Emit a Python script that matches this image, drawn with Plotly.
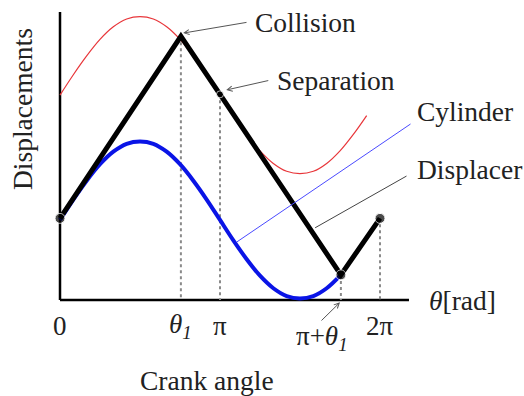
import plotly.graph_objects as go

# Crank angle samples (degrees) and displacement readings
crank_deg = [0, 15, 30, 45, 60, 75, 90, 105, 120, 135, 150, 165, 180,
             195, 210, 225, 240, 255, 270, 285, 300, 315, 330, 345]

# thin red curve (upper boundary)
upper_curve = [2.61, 2.87, 3.11, 3.32, 3.48, 3.58, 3.61, 3.58, 3.48, 3.32, 3.11, 2.87,
               2.61, 2.35, 2.11, 1.90, 1.74, 1.64, 1.61, 1.64, 1.74, 1.90, 2.11, 2.35]

# thick blue curve ("Cylinder"), ends at pi + theta1
cylinder_deg = [0, 15, 30, 45, 60, 75, 90, 105, 120, 135, 150, 165, 180,
                195, 210, 225, 240, 255, 270, 285, 300, 316]
cylinder = [1.02, 1.28, 1.52, 1.73, 1.89, 1.99, 2.02, 1.99, 1.89, 1.73, 1.52, 1.28,
            1.02, 0.76, 0.52, 0.31, 0.15, 0.05, 0.02, 0.05, 0.15, 0.32]

# thick black polyline ("Displacer"): start, collision, separation, pi+theta1, 2pi
event_deg = [0, 136, 180, 316, 360]
displacer = [1.04, 3.36, 2.62, 0.32, 1.04]

tick_vals = [0, 136, 180, 360]
tick_text = ["0", "<i>θ</i><sub><i>1</i></sub>", "π", "2π"]

FONT = "Liberation Serif"
X_MAX = 392.6   # end of the horizontal axis line
Y_MAX = 3.669   # top of the vertical axis line

fig = go.Figure()

# dotted guides from the marked events down to the axis
gx, gy = [], []
for d, v in zip(event_deg[1:], displacer[1:]):
    gx += [d, d, None]
    gy += [v, 0, None]
fig.add_trace(go.Scatter(x=gx, y=gy, mode="lines",
                         line=dict(color="#8a8a8a", width=2, dash="dot"),
                         hoverinfo="skip"))

fig.add_trace(go.Scatter(x=crank_deg, y=upper_curve, mode="lines",
                         line=dict(color="#e8363a", width=1.2, shape="spline")))
fig.add_trace(go.Scatter(x=cylinder_deg, y=cylinder, mode="lines",
                         line=dict(color="#0a14e6", width=4, shape="spline")))
fig.add_trace(go.Scatter(x=event_deg, y=displacer, mode="lines",
                         line=dict(color="black", width=5)))
# event dots
dot_idx = [0, 2, 3, 4]
fig.add_trace(go.Scatter(x=[event_deg[i] for i in dot_idx],
                         y=[displacer[i] for i in dot_idx],
                         mode="markers",
                         marker=dict(color="black", size=[10, 7, 10, 10])))

# axis lines
shapes = [
    dict(type="line", xref="x", yref="y", x0=0, y0=0, x1=X_MAX, y1=0,
         line=dict(color="black", width=2.5), layer="below"),
    dict(type="line", xref="x", yref="y", x0=0, y0=0, x1=0, y1=Y_MAX,
         line=dict(color="black", width=2.5), layer="below"),
]

ann = []
def label(text, x, y, xanchor="left", size=27.5, **kw):
    ann.append(dict(text=text, x=x, y=y, xref="x", yref="y", showarrow=False,
                    xanchor=xanchor, yanchor="middle",
                    font=dict(family=FONT, size=size, color="#222"), **kw))

def pointer(x, y, ax, ay, color="#555", head=5, width=1):
    ann.append(dict(text="", x=x, y=y, ax=ax, ay=ay, xref="x", yref="y",
                    axref="x", ayref="y", showarrow=True, arrowhead=head,
                    arrowsize=1, arrowwidth=width, arrowcolor=color))

# tick labels along the crank-angle axis
for v, t in zip(tick_vals, tick_text):
    label(t, v, -0.33, xanchor="center", size=27)

label("Collision", 217, 3.53)
pointer(138.5, 3.40, 211.5, 3.54)
label("Separation", 242, 2.80)
pointer(187, 2.675, 236, 2.80)
label("Cylinder", 399.5, 2.40)
pointer(199, 0.74, 396, 2.255, color="#4a4aff", head=0)
label("Displacer", 399.5, 1.66)
pointer(287, 0.92, 391.5, 1.59, color="#444", head=0)
label("π+<i>θ</i><sub><i>1</i></sub>", 294.5, -0.48, xanchor="center", size=27)
pointer(315, -0.03, 292.5, -0.28)
label("<i>θ</i>[rad]", 413, 0.0)
label("Crank angle", 165, -1.03, xanchor="center")
label("Displacements", -43, 2.43, xanchor="center", textangle=-90)

fig.update_layout(
    width=524, height=396,
    margin=dict(l=0, r=0, t=0, b=0),
    paper_bgcolor="white", plot_bgcolor="white",
    showlegend=False,
    annotations=ann, shapes=shapes,
    xaxis=dict(range=[-67.5, 522], visible=False),
    yaxis=dict(range=[-1.223, 3.822], visible=False),
)

fig.write_html("out.html")
